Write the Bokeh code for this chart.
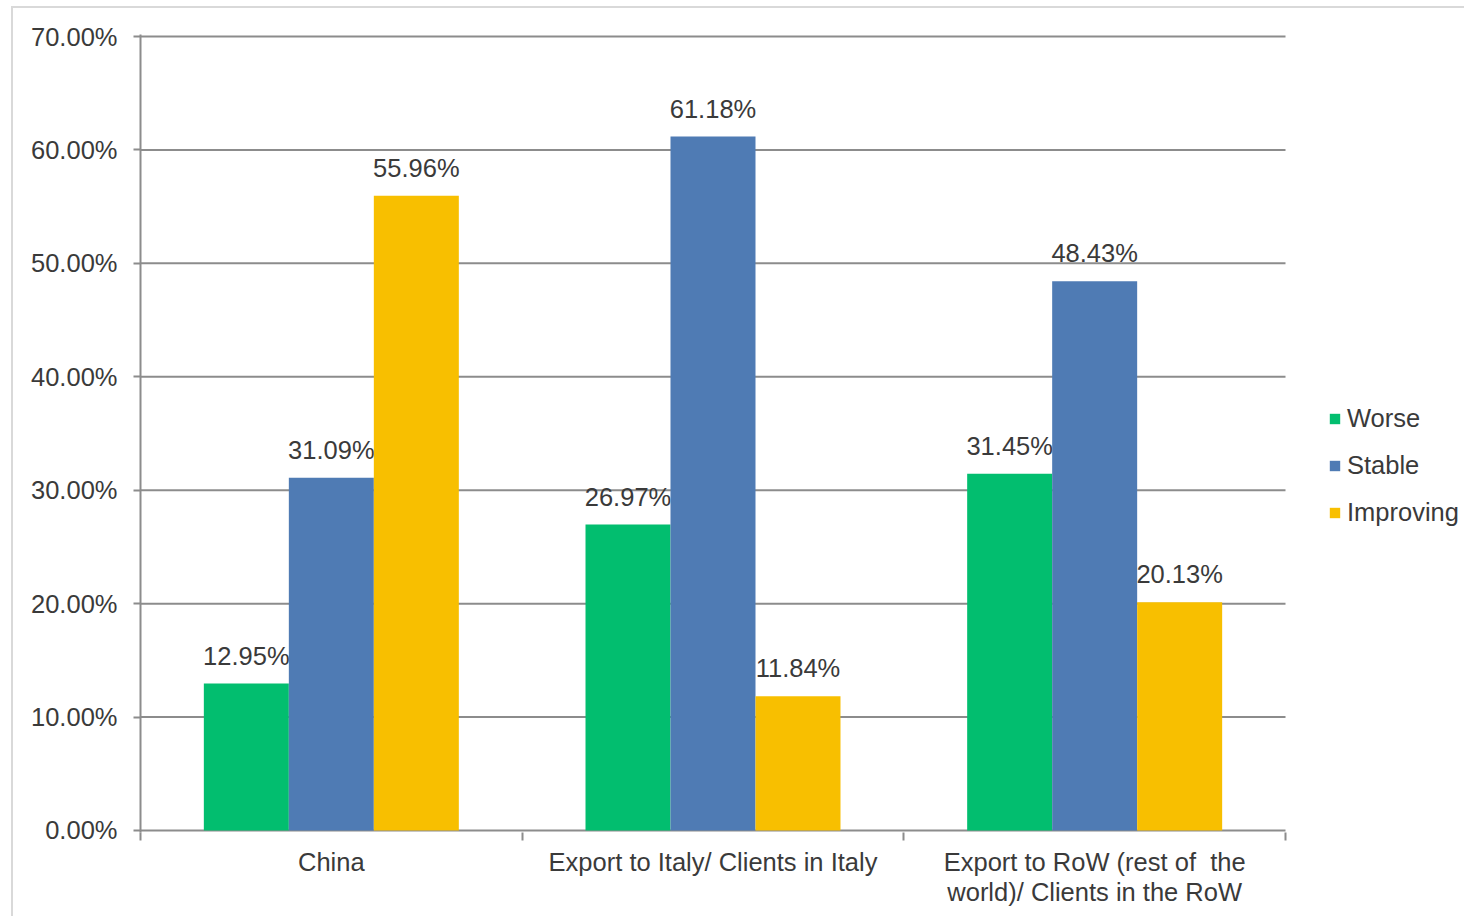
from bokeh.plotting import figure
from bokeh.models import FixedTicker, NumeralTickFormatter, ColumnDataSource, Legend
from bokeh.core.properties import value
from bokeh.embed import file_html
from bokeh.resources import INLINE

categories = ["China", "Export to Italy/ Clients in Italy",
              "Export to RoW (rest of\u00a0 the\nworld)/ Clients in the RoW"]
worse = [0.1295, 0.2697, 0.3145]
stable = [0.3109, 0.6118, 0.4843]
improving = [0.5596, 0.1184, 0.2013]
series_names = ["Worse", "Stable", "Improving"]
colors = ["#02BE6F", "#4F7BB4", "#F8BF00"]
y_ticks = [0, 0.1, 0.2, 0.3, 0.4, 0.5, 0.6, 0.7]

FONT = "Liberation Sans"
FS = "25.5px"
GRAY = "#8c8c8c"
TXT = "#3a3a3a"

n_cat = len(categories)
# frame extends past the last category so the legend can sit inside it
x_end = n_cat * (1466 - 140) / (1285 - 140)
ypad = 2 * 0.1 / 113.4

p = figure(width=1453, height=910, x_range=(0, x_end), y_range=(-ypad, y_ticks[-1] + ypad),
           output_backend="svg", toolbar_location=None,
           min_border_left=127, min_border_right=0, min_border_top=26, min_border_bottom=86,
           background_fill_color="white", border_fill_color="white")
p.styles = {"margin-left": "11px", "margin-top": "6px",
            "border-top": "2px solid #d9d9d9", "border-left": "2px solid #d9d9d9"}
p.outline_line_color = None

# horizontal grid lines over the category span only
p.segment(x0=[0] * len(y_ticks), x1=[n_cat] * len(y_ticks), y0=y_ticks, y1=y_ticks,
          line_color=GRAY, line_width=2)

bw = 0.2227
centers = [i + 0.5 for i in range(n_cat)]
series = [worse, stable, improving]
offsets = [-bw, 0, bw]
items = []
for name, vals, col, off in zip(series_names, series, colors, offsets):
    xs = [c + off for c in centers]
    src = ColumnDataSource(dict(x=xs, top=vals, lab=["%.2f%%" % (v * 100) for v in vals]))
    r = p.vbar(x="x", top="top", width=bw, source=src, fill_color=col, line_color=None)
    items.append((name, [r]))
    p.text(x="x", y="top", text="lab", source=src, text_align="center", text_baseline="alphabetic",
           y_offset=-28, text_font=value(FONT), text_font_size=FS, text_color=TXT)

p.xgrid.grid_line_color = None
p.ygrid.grid_line_color = None

# y axis
p.yaxis.ticker = FixedTicker(ticks=y_ticks)
p.yaxis.formatter = NumeralTickFormatter(format="0.00%")
p.yaxis.axis_line_color = GRAY
p.yaxis.axis_line_width = 2
p.yaxis.major_tick_line_color = GRAY
p.yaxis.major_tick_line_width = 2
p.yaxis.major_tick_in = 0
p.yaxis.major_tick_out = 7
p.yaxis.minor_tick_line_color = None
p.yaxis.major_label_standoff = 16
p.yaxis.major_label_text_font = FONT
p.yaxis.major_label_text_font_size = FS
p.yaxis.major_label_text_color = TXT

# x axis
p.xaxis.ticker = FixedTicker(ticks=centers, minor_ticks=list(range(n_cat + 1)))
p.xaxis.major_label_overrides = {c: lab for c, lab in zip(centers, categories)}
p.xaxis.axis_line_color = None
p.xaxis.major_tick_line_color = None
p.xaxis.minor_tick_line_color = GRAY
p.xaxis.minor_tick_line_width = 2
p.xaxis.minor_tick_in = 0
p.xaxis.minor_tick_out = 8
p.xaxis.major_label_standoff = 7
p.xaxis.major_label_text_font = FONT
p.xaxis.major_label_text_font_size = FS
p.xaxis.major_label_text_color = TXT
p.xaxis.major_label_text_line_height = 1.1

legend = Legend(items=items, location=(1188, 305), orientation="vertical",
                glyph_width=13, glyph_height=13, label_standoff=6, spacing=18,
                label_text_font=FONT, label_text_font_size=FS, label_text_color=TXT,
                border_line_color=None, background_fill_alpha=0, padding=0, margin=0)
p.add_layout(legend, "center")

open("out.html", "w").write(file_html(p, INLINE))
